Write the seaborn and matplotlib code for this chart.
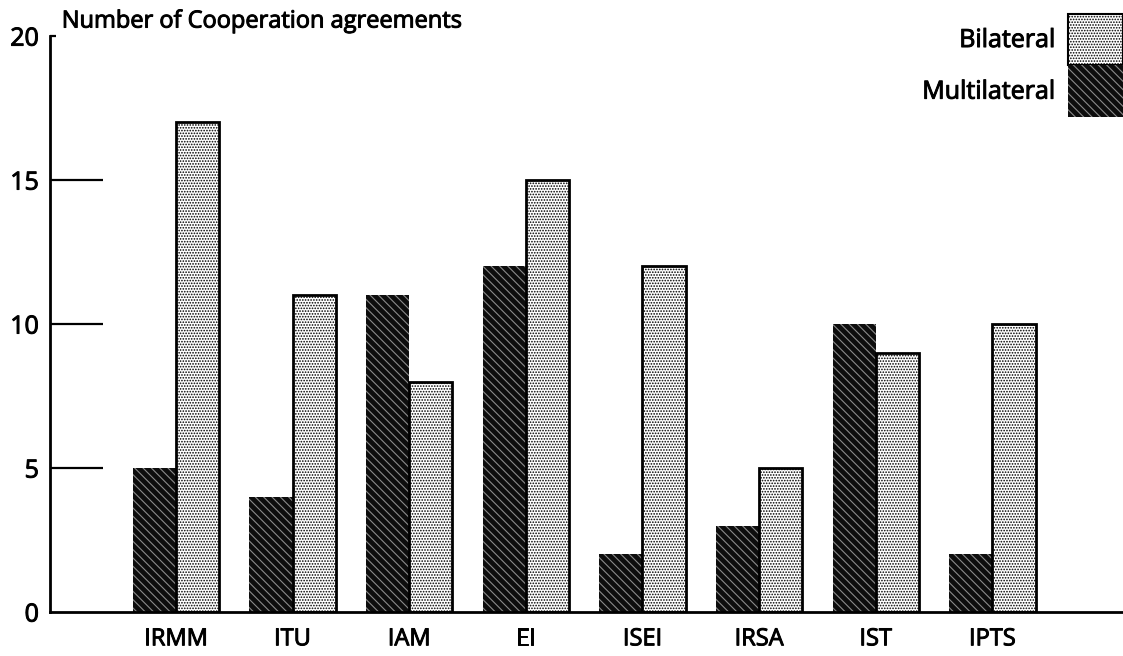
"""
Cooperation agreements per institute: multilateral vs bilateral bars.
"""

import matplotlib

matplotlib.use("Agg")

import matplotlib.patches as mpatches
import matplotlib.patheffects as pe
import matplotlib.pyplot as plt
import pandas as pd
import seaborn as sns

# Chart data
institutes = ["IRMM", "ITU", "IAM", "EI", "ISEI", "IRSA", "IST", "IPTS"]
multilateral = [5, 4, 11, 12, 2, 3, 10, 2]
bilateral = [17, 11, 8, 15, 12, 5, 9, 10]
y_ticks = [0, 5, 10, 15, 20]

df = pd.DataFrame(
    {
        "Institute": institutes * 2,
        "Type": ["Multilateral"] * len(institutes) + ["Bilateral"] * len(institutes),
        "Agreements": multilateral + bilateral,
    }
)

sns.set_theme(style="white")
plt.rcParams["font.family"] = ["Open Sans", "DejaVu Sans"]
plt.rcParams["hatch.linewidth"] = 0.8
plt.rcParams["text.color"] = "black"
plt.rcParams["xtick.color"] = "black"
plt.rcParams["ytick.color"] = "black"

# slight stroke so the regular face looks semi-bold like the scan
heavy = [pe.withStroke(linewidth=0.7, foreground="black")]

fig = plt.figure(figsize=(11.23, 6.56), dpi=100)
ax = fig.add_axes([0.0445, 0.067, 0.9555, 0.878])

sns.barplot(
    data=df,
    x="Institute",
    y="Agreements",
    hue="Type",
    hue_order=["Multilateral", "Bilateral"],
    order=institutes,
    width=0.74,
    gap=0,
    legend=False,
    ax=ax,
)

# Multilateral: black with faint diagonal hatch, Bilateral: dotted with black outline
styles = {
    "Multilateral": dict(facecolor="#0d0d0d", edgecolor="#8a8a8a", hatch="\\\\\\\\", linewidth=0),
    "Bilateral": dict(facecolor="white", edgecolor="black", hatch="......", linewidth=2),
}
for container, name in zip(ax.containers, ["Multilateral", "Bilateral"]):
    for bar in container:
        bar.set_facecolor(styles[name]["facecolor"])
        bar.set_edgecolor(styles[name]["edgecolor"])
        bar.set_hatch(styles[name]["hatch"])
        bar.set_linewidth(styles[name]["linewidth"])

ax.set_xlim(-1.08, 8.12)
ax.set_ylim(0, 20)
ax.set_yticks(y_ticks)
ax.set_xlabel("")
ax.set_ylabel("")

for side in ["top", "right"]:
    ax.spines[side].set_visible(False)
for side in ["left", "bottom"]:
    ax.spines[side].set_linewidth(2)
    ax.spines[side].set_color("black")

ax.tick_params(axis="y", direction="in", length=38, width=1.6, color="black",
               labelsize=18, pad=8, left=True)
ax.tick_params(axis="x", length=0, labelsize=17, pad=11)
ax.yaxis.get_major_ticks()[-1].tick1line.set_markersize(4)
ax.yaxis.get_major_ticks()[0].tick1line.set_markersize(0)
for label in ax.get_xticklabels() + ax.get_yticklabels():
    label.set_path_effects(heavy)

fig.text(0.055, 0.958, "Number of Cooperation agreements", fontsize=17,
         ha="left", va="baseline", path_effects=heavy)

handles = [
    mpatches.Patch(facecolor="white", edgecolor="black", hatch="......", linewidth=1.5, label="Bilateral"),
    mpatches.Patch(facecolor="#0d0d0d", edgecolor="#8a8a8a", hatch="\\\\\\\\", linewidth=0, label="Multilateral"),
]
leg = fig.legend(
    handles=handles,
    loc="upper right",
    bbox_to_anchor=(1.0, 0.979),
    markerfirst=False,
    frameon=False,
    fontsize=18,
    handlelength=2.2,
    handleheight=2.8,
    labelspacing=0,
    handletextpad=0.5,
    borderpad=0,
    borderaxespad=0,
)
for text in leg.get_texts():
    text.set_path_effects(heavy)

plt.savefig("out.png", dpi=100)
plt.close()
